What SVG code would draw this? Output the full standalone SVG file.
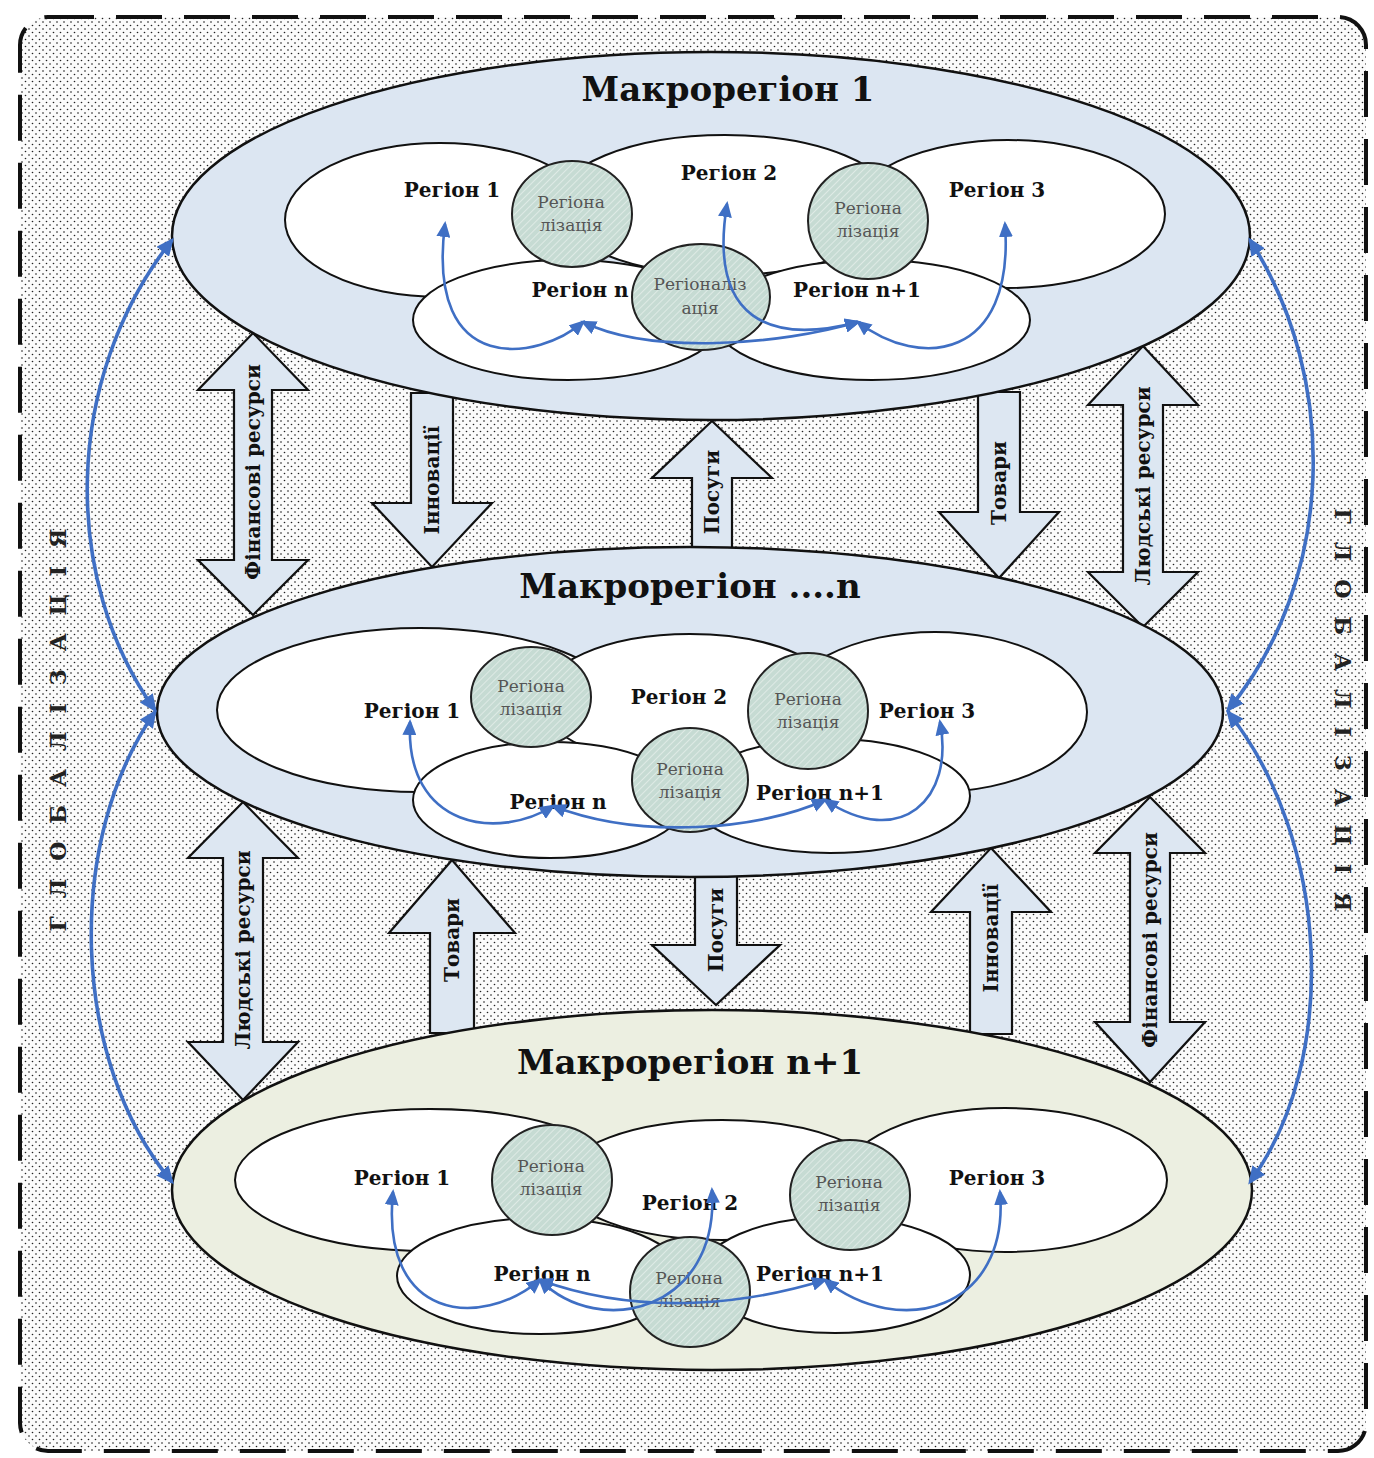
<svg xmlns="http://www.w3.org/2000/svg" width="1374" height="1458" viewBox="0 0 1374 1458">
<defs>
<pattern id="dots" width="7" height="7" patternUnits="userSpaceOnUse">
<rect width="7" height="7" fill="#fbfbfb"/>
<circle cx="1" cy="1" r="0.8" fill="#111"/>
<circle cx="4.5" cy="4.5" r="0.8" fill="#222"/>
</pattern>
<pattern id="hatch" width="5" height="5" patternUnits="userSpaceOnUse" patternTransform="rotate(45)">
<rect width="5" height="5" fill="#c6dbd3"/>
<line x1="0" y1="0" x2="0" y2="5" stroke="#e6efeb" stroke-width="1.5"/>
</pattern>
<marker id="ah" markerUnits="userSpaceOnUse" markerWidth="16" markerHeight="14" refX="13" refY="7" orient="auto-start-reverse">
<path d="M0,0 L16,7 L0,14 z" fill="#3f6fc4"/>
</marker>
<marker id="ahb" markerUnits="userSpaceOnUse" markerWidth="18" markerHeight="16" refX="15" refY="8" orient="auto-start-reverse">
<path d="M0,0 L18,8 L0,16 z" fill="#3f6fc4"/>
</marker>
<style>
.macro{stroke:#111;stroke-width:2.5}
.m1{fill:#dce6f2}
.m3{fill:#ecefe1}
.reg{fill:#fff;stroke:#111;stroke-width:2}
.circ{fill:url(#hatch);stroke:#222;stroke-width:2}
.blk{fill:#dde7f2;stroke:#111;stroke-width:2.2;stroke-linejoin:miter}
.title{font-family:"DejaVu Serif",serif;font-weight:bold;font-size:34px;fill:#111;text-anchor:middle}
.rl{font-family:"DejaVu Serif",serif;font-weight:bold;font-size:20px;fill:#111;text-anchor:middle}
.cl{font-family:"DejaVu Serif",serif;font-size:17px;fill:#555;text-anchor:middle}
.al{font-family:"DejaVu Serif",serif;font-weight:bold;font-size:20px;fill:#111;text-anchor:middle}
.side{font-family:"DejaVu Serif",serif;font-weight:bold;font-size:22px;fill:#222;text-anchor:middle;letter-spacing:18px}
.blue{fill:none;stroke:#3f6fc4;stroke-width:2.6;marker-start:url(#ah);marker-end:url(#ah)}
.bigblue{fill:none;stroke:#3f6fc4;stroke-width:3.6;marker-start:url(#ahb);marker-end:url(#ahb)}
</style>
</defs>

<g id="background">
<rect x="20" y="17" width="1346" height="1434" rx="28" fill="url(#dots)" stroke="#111" stroke-width="4" stroke-dasharray="46 22"/>
</g>

<g id="flows">
<g id="flow-fin-1"><polygon class="blk" points="253,333 308,390 272,390 272,560 308,560 253,615 198,560 234,560 234,390 198,390"/>
<text class="al" transform="translate(253,472) rotate(-90)" dy="0.36em">Фінансові ресурси</text></g>
<g id="flow-inn-1"><polygon class="blk" points="411,393 453,393 453,503 492,503 432,567 372,503 411,503"/>
<text class="al" transform="translate(432,480) rotate(-90)" dy="0.36em">Інновації</text></g>
<g id="flow-pos-1"><polygon class="blk" points="712,421 772,478 732,478 732,549 692,549 692,478 652,478"/>
<text class="al" transform="translate(712,492) rotate(-90)" dy="0.36em">Посуги</text></g>
<g id="flow-tov-1"><polygon class="blk" points="978,392 1020,392 1020,512 1059,512 999,578 939,512 978,512"/>
<text class="al" transform="translate(999,483) rotate(-90)" dy="0.36em">Товари</text></g>
<g id="flow-lud-1"><polygon class="blk" points="1143,346 1198,405 1163,405 1163,572 1198,572 1143,627 1088,572 1123,572 1123,405 1088,405"/>
<text class="al" transform="translate(1143,486) rotate(-90)" dy="0.36em">Людські ресурси</text></g>

<g id="flow-lud-2"><polygon class="blk" points="243,802 298,858 263,858 263,1042 298,1042 243,1100 188,1042 223,1042 223,858 188,858"/>
<text class="al" transform="translate(243,950) rotate(-90)" dy="0.36em">Людські ресурси</text></g>
<g id="flow-tov-2"><polygon class="blk" points="452,860 515,933 474,933 474,1033 430,1033 430,933 389,933"/>
<text class="al" transform="translate(452,940) rotate(-90)" dy="0.36em">Товари</text></g>
<g id="flow-pos-2"><polygon class="blk" points="695,876 737,876 737,945 780,945 716,1005 652,945 695,945"/>
<text class="al" transform="translate(716,930) rotate(-90)" dy="0.36em">Посуги</text></g>
<g id="flow-inn-2"><polygon class="blk" points="991,848 1051,912 1012,912 1012,1034 970,1034 970,912 931,912"/>
<text class="al" transform="translate(991,938) rotate(-90)" dy="0.36em">Інновації</text></g>
<g id="flow-fin-2"><polygon class="blk" points="1150,797 1205,853 1170,853 1170,1022 1205,1022 1150,1082 1095,1022 1130,1022 1130,853 1095,853"/>
<text class="al" transform="translate(1150,940) rotate(-90)" dy="0.36em">Фінансові ресурси</text></g>
</g>

<g id="macro-1">
<ellipse class="macro m1" cx="711" cy="236" rx="539" ry="184"/>
<text class="title" x="728" y="101">Макрорегіон 1</text>
<ellipse class="reg" cx="440" cy="220" rx="155" ry="77"/>
<ellipse class="reg" cx="1008" cy="214" rx="157" ry="74"/>
<ellipse class="reg" cx="725" cy="205" rx="170" ry="70"/>
<ellipse class="reg" cx="568" cy="320" rx="155" ry="60"/>
<ellipse class="reg" cx="872" cy="320" rx="158" ry="60"/>
<ellipse class="circ" cx="572" cy="214" rx="60" ry="53"/>
<ellipse class="circ" cx="868" cy="221" rx="60" ry="58"/>
<ellipse class="circ" cx="701" cy="297" rx="69" ry="53"/>
<text class="rl" x="452" y="197">Регіон 1</text>
<text class="rl" x="729" y="180">Регіон 2</text>
<text class="rl" x="997" y="197">Регіон 3</text>
<text class="rl" x="580" y="297">Регіон n</text>
<text class="rl" x="857" y="297">Регіон n+1</text>
<text class="cl" x="571" y="208">Регіона</text><text class="cl" x="571" y="231">лізація</text>
<text class="cl" x="868" y="214">Регіона</text><text class="cl" x="868" y="237">лізація</text>
<text class="cl" x="700" y="290">Регіоналіз</text><text class="cl" x="700" y="314">ація</text>
</g>

<g id="macro-n">
<ellipse class="macro m1" cx="690" cy="712" rx="533" ry="165"/>
<text class="title" x="690" y="598">Макрорегіон ....n</text>
<ellipse class="reg" cx="420" cy="710" rx="203" ry="82"/>
<ellipse class="reg" cx="935" cy="712" rx="152" ry="80"/>
<ellipse class="reg" cx="690" cy="700" rx="150" ry="66"/>
<ellipse class="reg" cx="550" cy="800" rx="137" ry="58"/>
<ellipse class="reg" cx="830" cy="796" rx="140" ry="57"/>
<ellipse class="circ" cx="531" cy="697" rx="60" ry="50"/>
<ellipse class="circ" cx="808" cy="711" rx="60" ry="58"/>
<ellipse class="circ" cx="690" cy="780" rx="58" ry="52"/>
<text class="rl" x="412" y="718">Регіон 1</text>
<text class="rl" x="679" y="704">Регіон 2</text>
<text class="rl" x="927" y="718">Регіон 3</text>
<text class="rl" x="558" y="809">Регіон n</text>
<text class="rl" x="820" y="800">Регіон n+1</text>
<text class="cl" x="531" y="692">Регіона</text><text class="cl" x="531" y="715">лізація</text>
<text class="cl" x="808" y="705">Регіона</text><text class="cl" x="808" y="728">лізація</text>
<text class="cl" x="690" y="775">Регіона</text><text class="cl" x="690" y="798">лізація</text>
</g>

<g id="macro-n1">
<ellipse class="macro m3" cx="712" cy="1190" rx="540" ry="180"/>
<text class="title" x="690" y="1074">Макрорегіон n+1</text>
<ellipse class="reg" cx="430" cy="1180" rx="195" ry="71"/>
<ellipse class="reg" cx="1005" cy="1180" rx="162" ry="72"/>
<ellipse class="reg" cx="722" cy="1180" rx="160" ry="60"/>
<ellipse class="reg" cx="540" cy="1276" rx="143" ry="58"/>
<ellipse class="reg" cx="835" cy="1275" rx="135" ry="58"/>
<ellipse class="circ" cx="552" cy="1180" rx="60" ry="55"/>
<ellipse class="circ" cx="850" cy="1195" rx="60" ry="55"/>
<ellipse class="circ" cx="690" cy="1292" rx="60" ry="55"/>
<text class="rl" x="402" y="1185">Регіон 1</text>
<text class="rl" x="690" y="1210">Регіон 2</text>
<text class="rl" x="997" y="1185">Регіон 3</text>
<text class="rl" x="542" y="1281">Регіон n</text>
<text class="rl" x="820" y="1281">Регіон n+1</text>
<text class="cl" x="551" y="1172">Регіона</text><text class="cl" x="551" y="1195">лізація</text>
<text class="cl" x="849" y="1188">Регіона</text><text class="cl" x="849" y="1211">лізація</text>
<text class="cl" x="689" y="1284">Регіона</text><text class="cl" x="689" y="1307">лізація</text>
</g>

<g id="labels">
<text class="side" transform="translate(58,730) rotate(-90)" dx="9" dy="0.36em">ГЛОБАЛІЗАЦІЯ</text>
<text class="side" transform="translate(1343,710) rotate(90)" dx="9" dy="0.36em">ГЛОБАЛІЗАЦІЯ</text>
</g>

<g id="connectors">
<path class="bigblue" d="M 172 240 C 62 380, 62 580, 155 710"/>
<path class="bigblue" d="M 155 712 C 65 840, 70 1060, 172 1182"/>
<path class="bigblue" d="M 1250 240 C 1340 380, 1335 580, 1228 710"/>
<path class="bigblue" d="M 1228 712 C 1330 840, 1340 1060, 1250 1182"/>

<path class="blue" d="M 445 224 C 425 380, 540 360, 583 322"/>
<path class="blue" d="M 583 322 C 650 355, 780 345, 858 322"/>
<path class="blue" d="M 727 204 C 708 320, 770 345, 858 322"/>
<path class="blue" d="M 858 322 C 920 370, 1015 360, 1005 224"/>

<path class="blue" d="M 410 722 C 405 830, 500 840, 553 806"/>
<path class="blue" d="M 553 806 C 640 840, 760 830, 825 800"/>
<path class="blue" d="M 825 800 C 900 850, 955 800, 940 722"/>

<path class="blue" d="M 393 1192 C 380 1320, 480 1330, 540 1280"/>
<path class="blue" d="M 540 1280 C 650 1320, 760 1300, 825 1280"/>
<path class="blue" d="M 540 1280 C 600 1340, 720 1310, 712 1190"/>
<path class="blue" d="M 825 1280 C 900 1340, 1010 1310, 1000 1192"/>
</g>
</svg>
